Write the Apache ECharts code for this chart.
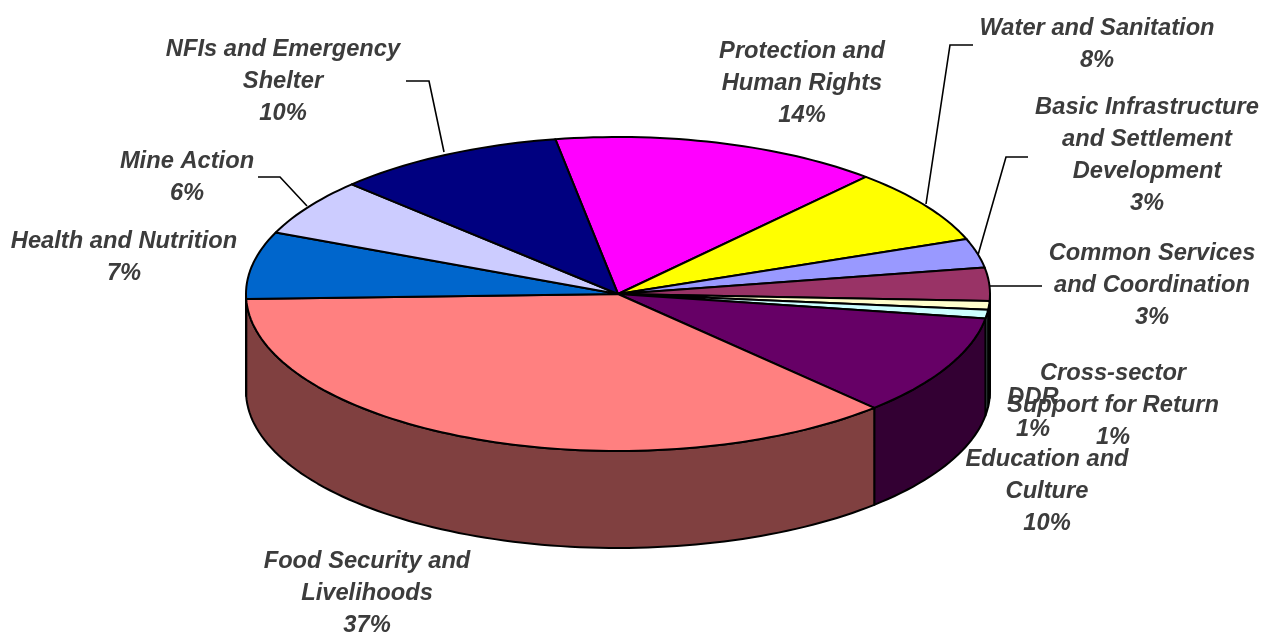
<!DOCTYPE html>
<html><head><meta charset="utf-8">
<style>html,body{margin:0;padding:0;background:#fff}#c{width:1264px;height:633px}</style>
<script src="https://cdn.jsdelivr.net/npm/echarts@6/dist/echarts.min.js"></script>
</head><body><div id="c"></div>
<script>
// Data (clockwise from the start angle)
var categories = ['Protection and\nHuman Rights','Water and Sanitation','Basic Infrastructure\nand Settlement\nDevelopment','Common Services\nand Coordination','DDR','Cross-sector\nSupport for Return','Education and\nCulture','Food Security and\nLivelihoods','Health and Nutrition','Mine Action','NFIs and Emergency\nShelter'];
var values = [14.3,7.7,3.0,3.4,0.9,0.9,10.4,36.6,6.9,5.9,10.0];
var percentLabels = ['14%','8%','3%','3%','1%','1%','10%','37%','7%','6%','10%'];
var colors = ['#FF00FF','#FFFF00','#9999FF','#993366','#FFFFCC','#CCFFFF','#660066','#FF8080','#0066CC','#CCCCFF','#000080'];
var wallColors = ['#800080','#808000','#4D4D80','#4D1A33','#808066','#668080','#330033','#804040','#003366','#666680','#000040'];

// Layout
var labelCentres = [[802,51],[1097,28],[1147,107],[1152,253],[1033,397],[1113,373],[1047,459],[367,561],[124,241],[187,161],[283,49]];
var leaders = [
  [[406,81],[429,81],[444,152]],
  [[258,177],[280,177],[307,206]],
  [[973,45],[950,45],[926,204]],
  [[1028,157],[1006,157],[978,255]],
  [[990,286],[1042,286]]
];
var CX=618, CY=294, RX=372, RY=157, DEPTH=97, START=-9.7;

var total = values.reduce(function(a,b){return a+b;},0);
var seriesData = [], acc = START;
values.forEach(function(v,i){
  var sweep = v/total*360;
  seriesData.push({value:[i, acc, acc+sweep]});
  acc += sweep;
});
function pt(deg, dy){
  var r = deg*Math.PI/180;
  return [CX+RX*Math.sin(r), CY-RY*Math.cos(r)+(dy||0)];
}
function arc(a,b,dy){
  var n = Math.max(2,Math.ceil(Math.abs(b-a)/1.5)), out=[];
  for(var k=0;k<=n;k++) out.push(pt(a+(b-a)*k/n,dy));
  return out;
}
function style(fill){return {fill:fill,stroke:'#000',lineWidth:2,lineJoin:'round'};}

var graphics = [];
leaders.forEach(function(p){
  graphics.push({type:'polyline',z:5,shape:{points:p},style:{stroke:'#000',lineWidth:1.6,fill:null}});
});
categories.forEach(function(name,i){
  var text = name+'\n'+percentLabels[i];
  var lines = text.split('\n').length;
  graphics.push({type:'text',z:10,x:labelCentres[i][0],y:labelCentres[i][1]+(lines-1)*32.3/2,style:{
    text:text,
    align:'center',verticalAlign:'middle',
    font:'italic bold 23.7px "Liberation Sans", Arial, sans-serif',
    lineHeight:32.3,fill:'#3c3c3c'
  }});
});

var chart = echarts.init(document.getElementById('c'),null,{renderer:'canvas'});
chart.setOption({
  animation:false,
  backgroundColor:'#fff',
  graphic:graphics,
  series:[
    {type:'custom',coordinateSystem:'none',silent:true,z:1,data:seriesData,
     renderItem:function(params,api){
       var i=api.value(0), a=Math.max(api.value(1),90), b=Math.min(api.value(2),270);
       if(b<=a) return {type:'group',children:[]};
       var pts=arc(a,b,0).concat(arc(b,a,DEPTH));
       return {type:'polygon',shape:{points:pts},style:style(wallColors[i])};
     }},
    {type:'custom',coordinateSystem:'none',silent:true,z:2,data:seriesData,
     renderItem:function(params,api){
       var i=api.value(0), pts=[[CX,CY]].concat(arc(api.value(1),api.value(2),0));
       return {type:'polygon',shape:{points:pts},style:style(colors[i])};
     }}
  ]
});
</script></body></html>
